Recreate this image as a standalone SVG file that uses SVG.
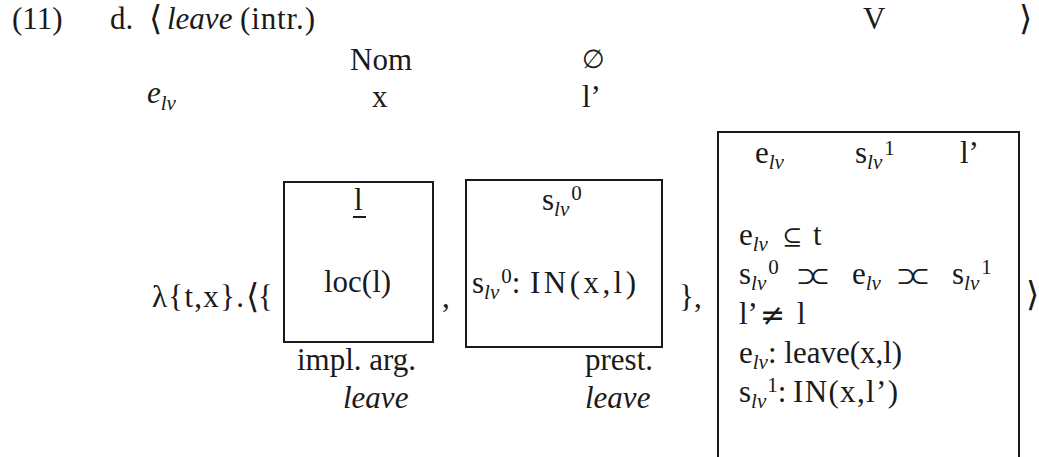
<svg xmlns="http://www.w3.org/2000/svg" width="1039" height="457" viewBox="0 0 1039 457">
<style>
.t{font-family:"Liberation Serif","DejaVu Serif",serif;font-size:31px;fill:#1a1a1a}
.i{font-style:italic}
.sub{font-size:21px;font-style:italic}
.sup{font-size:21px;font-style:normal}
.m{font-family:"DejaVu Serif","Liberation Serif",serif}
.ang{font-family:"DejaVu Serif","Liberation Serif",serif;font-size:34px}
.ab{font-family:"DejaVu Serif","Liberation Serif",serif;font-size:24px;letter-spacing:-6px}
.box{fill:none;stroke:#1a1a1a;stroke-width:2}
</style>
<rect width="1039" height="457" fill="#ffffff"/>
<g id="header" class="t">
  <text x="12" y="29">(11)</text>
  <text x="110" y="29">d.</text>
  <text x="149" y="30" class="ang">⟨</text>
  <text x="167" y="29" class="i">leave</text>
  <text x="240" y="29" textLength="75" lengthAdjust="spacing">(intr.)</text>
  <text x="863" y="29">V</text>
  <text x="1019" y="30" class="ang">⟩</text>
  <text x="350" y="70">Nom</text>
  <text x="582" y="68" class="m" font-size="26">∅</text>
  <text x="147" y="103"><tspan class="i">e</tspan><tspan class="sub" dy="7">lv</tspan></text>
  <text x="372" y="107">x</text>
  <text x="582" y="107">l’</text>
</g>
<g id="lambda" class="t">
  <text x="152" y="307" textLength="92" lengthAdjust="spacing">λ{t,x}.</text>
  <text x="246" y="308" class="ang">⟨</text>
  <text x="258" y="307">{</text>
</g>
<g id="box1" class="t">
  <rect class="box" x="284" y="182" width="149" height="160"/>
  <text x="354" y="210">l</text>
  <line x1="353" y1="217" x2="366" y2="217" stroke="#1a1a1a" stroke-width="2"/>
  <text x="324" y="292">loc(l)</text>
  <text x="297" y="370">impl. arg.</text>
  <text x="343" y="408" class="i">leave</text>
</g>
<text class="t" x="442" y="307">,</text>
<g id="box2" class="t">
  <rect class="box" x="466" y="180" width="196" height="167"/>
  <text x="542" y="210">s<tspan class="sub" dy="6">lv</tspan><tspan class="sup" dx="2" dy="-16">0</tspan></text>
  <text x="472" y="293">s<tspan class="sub" dy="6">lv</tspan><tspan class="sup" dx="2" dy="-16">0</tspan><tspan dy="10">:</tspan></text>
  <text x="530" y="293" textLength="106" lengthAdjust="spacing">IN(x,l)</text>
  <text x="585" y="370">prest.</text>
  <text x="585" y="408" class="i">leave</text>
</g>
<text class="t" x="679" y="307">},</text>
<g id="box3" class="t">
  <rect class="box" x="718" y="132" width="301" height="340"/>
  <text x="755" y="163">e<tspan class="sub" dy="6">lv</tspan></text>
  <text x="855" y="163">s<tspan class="sub" dy="6">lv</tspan><tspan class="sup" dx="2" dy="-14">1</tspan></text>
  <text x="960" y="163">l’</text>
  <text x="739" y="245">e<tspan class="sub" dy="6">lv</tspan></text>
  <text x="782" y="245" class="m" font-size="24">⊆</text>
  <text x="813" y="245">t</text>
  <text x="739" y="284">s<tspan class="sub" dy="6">lv</tspan><tspan class="sup" dx="2" dy="-16">0</tspan></text>
  <text x="796" y="284" class="ab">⊃⊂</text>
  <text x="852" y="284">e<tspan class="sub" dy="6">lv</tspan></text>
  <text x="896" y="284" class="ab">⊃⊂</text>
  <text x="952" y="284">s<tspan class="sub" dy="6">lv</tspan><tspan class="sup" dx="2" dy="-16">1</tspan></text>
  <text x="739" y="324">l’</text>
  <text x="760" y="325" class="m" font-size="30">≠</text>
  <text x="797" y="324">l</text>
  <text x="739" y="363">e<tspan class="sub" dy="6">lv</tspan><tspan dy="-6">: leave(x,l)</tspan></text>
  <text x="739" y="402">s<tspan class="sub" dy="6">lv</tspan><tspan class="sup" dx="1" dy="-16">1</tspan><tspan dy="10">:</tspan></text>
  <text x="793" y="402" textLength="105" lengthAdjust="spacing">IN(x,l’)</text>
</g>
<text class="ang" x="1026" y="306" fill="#1a1a1a">⟩</text>
</svg>
